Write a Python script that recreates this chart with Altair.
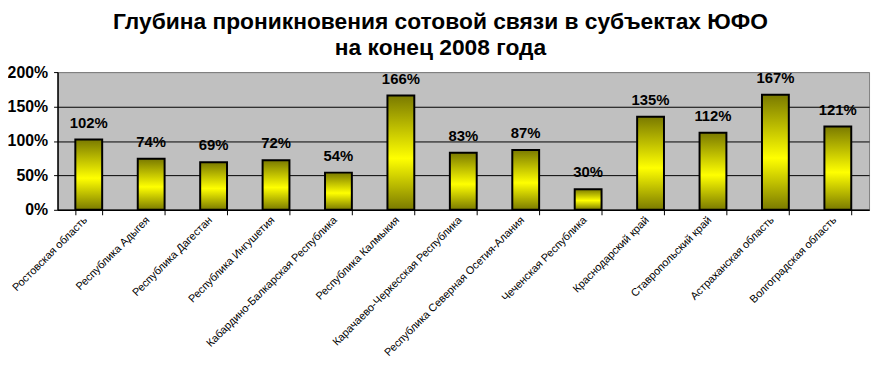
import altair as alt
import pandas as pd

regions = [
    "Ростовская область",
    "Республика Адыгея",
    "Республика Дагестан",
    "Республика Ингушетия",
    "Кабардино-Балкарская Республика",
    "Республика Калмыкия",
    "Карачаево-Черкесская Республика",
    "Республика Северная Осетия-Алания",
    "Чеченская Республика",
    "Краснодарский край",
    "Ставропольский край",
    "Астраханская область",
    "Волгоградская область",
]
values = [1.02, 0.74, 0.69, 0.72, 0.54, 1.66, 0.83, 0.87, 0.30, 1.35, 1.12, 1.67, 1.21]
y_ticks = [0, 0.5, 1.0, 1.5, 2.0]

df = pd.DataFrame({"region": regions, "value": values})
df["label"] = [f"{round(v * 100)}%" for v in values]

FONT = "Arial, Liberation Sans, sans-serif"

gradient = alt.Gradient(
    gradient="linear",
    stops=[
        alt.GradientStop(color="#7a7a00", offset=0),
        alt.GradientStop(color="#ffff00", offset=0.55),
        alt.GradientStop(color="#7a7a00", offset=1),
    ],
    x1=0, x2=0, y1=0, y2=1,
)

x = alt.X(
    "region:N",
    sort=regions,
    title=None,
    scale=alt.Scale(paddingInner=0.57, paddingOuter=0.285),
    axis=alt.Axis(
        labelAngle=-45,
        labelAlign="right",
        labelBaseline="bottom",
        labelFont=FONT,
        labelFontSize=11,
        labelColor="black",
        labelPadding=7,
        labelLimit=300,
        tickBand="extent",
        tickColor="black",
        tickSize=5,
        domainColor="black",
        domainWidth=1.5,
    ),
)
y = alt.Y(
    "value:Q",
    title=None,
    scale=alt.Scale(domain=[0, 2], nice=False),
    axis=alt.Axis(
        values=y_ticks,
        format=".0%",
        labelFont=FONT,
        labelFontSize=16,
        labelFontWeight="bold",
        labelColor="black",
        labelPadding=6,
        tickColor="black",
        tickSize=4,
        domainColor="black",
        domainWidth=1.5,
        grid=True,
        gridColor=alt.condition("datum.value >= 2", alt.value("#808080"), alt.value("black")),
        gridWidth=1,
    ),
)

bars = alt.Chart(df).mark_bar(fill=gradient, stroke="black", strokeWidth=2).encode(x=x, y=y)
text = alt.Chart(df).mark_text(
    font=FONT, fontSize=15, fontWeight="bold", color="black", baseline="alphabetic", dy=-12
).encode(x=x, y=y, text="label:N")

chart = (
    alt.layer(bars, text)
    .properties(
        width=819,
        height=139,
        autosize=alt.AutoSizeParams(type="none"),
        padding={"left": 50, "top": 63, "right": 4, "bottom": 161},
        title=alt.TitleParams(
            text=["Глубина проникновения сотовой связи в субъектах ЮФО", "на конец 2008 года"],
            font=FONT,
            fontSize=23,
            fontWeight="bold",
            color="black",
            anchor="middle",
            dx=-23,
            lineHeight=26,
            offset=4,
        ),
    )
    .configure_view(fill="#c0c0c0", stroke="#808080", strokeWidth=1)
)

chart.save("out.html", embed_options={"renderer": "svg", "actions": False})
